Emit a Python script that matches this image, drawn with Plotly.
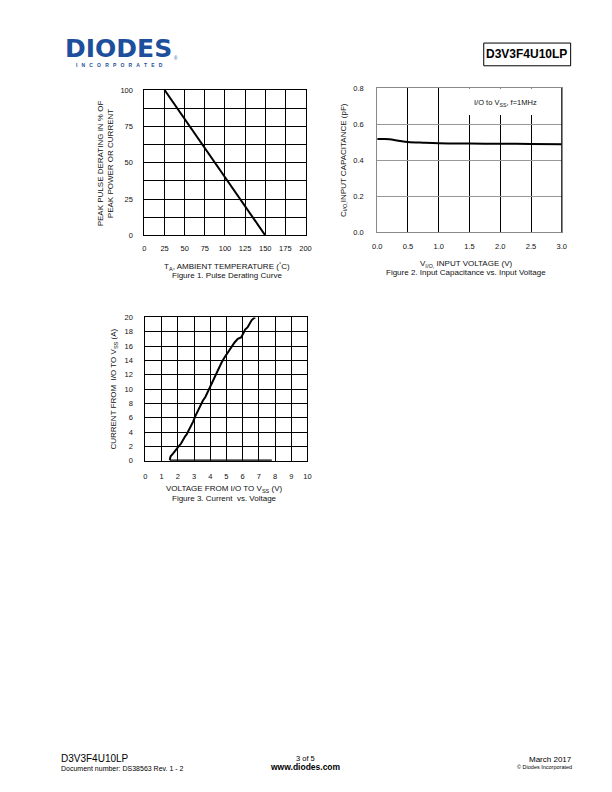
import plotly.graph_objects as go

W, H = 612, 792

def px(x):
    return x / W

def py(y):
    return 1 - y / H

# ---------------- data ----------------
# Figure 1: pulse derating curve
temp_c = [25, 150]
derating_pct = [100, 0]
fig1_xticks = [0, 25, 50, 75, 100, 125, 150, 175, 200]
fig1_yticks = [0, 25, 50, 75, 100]

# Figure 2: input capacitance vs input voltage
vin = [0.0, 0.1, 0.2, 0.3, 0.4, 0.5, 0.75, 1.0, 1.5, 2.0, 2.5, 3.0]
cap_pf = [0.517, 0.517, 0.516, 0.511, 0.505, 0.501, 0.497, 0.494, 0.492, 0.491, 0.490, 0.489]
fig2_xticks = [0.0, 0.5, 1.0, 1.5, 2.0, 2.5, 3.0]
fig2_yticks = [0.0, 0.2, 0.4, 0.6, 0.8]

# Figure 3: current vs voltage
v_io = [1.5, 1.55, 1.7, 1.85, 2.05, 2.2, 2.3, 2.45, 2.55, 2.7, 2.8, 2.95, 3.05, 3.2, 3.3,
        3.45, 3.55, 3.7, 3.8, 3.95, 4.05, 4.2, 4.3, 4.45, 4.55, 4.7, 4.85, 5.0, 5.15, 5.3,
        5.5, 5.7, 5.9, 6.05, 6.15, 6.3, 6.45, 6.55, 6.7, 6.78]
i_io = [0.1, 0.6, 1.0, 1.5, 2.0, 2.4, 2.9, 3.4, 3.7, 4.3, 4.9, 5.5, 6.1, 6.8, 7.3,
        7.9, 8.4, 8.9, 9.4, 10.0, 10.6, 11.3, 11.9, 12.5, 13.1, 13.7, 14.3, 14.8, 15.3, 15.9,
        16.5, 17.0, 17.2, 17.8, 18.3, 18.6, 19.1, 19.6, 19.9, 20.0]
base_v = [1.5, 7.8]
base_i = [0, 0]
fig3_xticks = list(range(0, 11))
fig3_yticks = list(range(0, 21, 2))

FONT = "Liberation Sans, Arial, sans-serif"
TICKFONT = dict(family=FONT, size=7.5, color="#111")
TS = 8  # title font size

fig = go.Figure()

fig.add_trace(go.Scatter(x=temp_c, y=derating_pct, mode="lines",
                         line=dict(color="black", width=2), xaxis="x", yaxis="y",
                         showlegend=False, hoverinfo="skip"))
fig.add_trace(go.Scatter(x=vin, y=cap_pf, mode="lines", line_shape="spline",
                         line=dict(color="black", width=2), xaxis="x2", yaxis="y2",
                         showlegend=False, hoverinfo="skip"))
fig.add_trace(go.Scatter(x=base_v, y=base_i, mode="lines",
                         line=dict(color="black", width=2.5), xaxis="x3", yaxis="y3",
                         showlegend=False, hoverinfo="skip", cliponaxis=False))
fig.add_trace(go.Scatter(x=v_io, y=i_io, mode="lines",
                         line=dict(color="black", width=2), xaxis="x3", yaxis="y3",
                         showlegend=False, hoverinfo="skip"))

common = dict(showline=True, mirror=True, zeroline=False, ticks="",
              tickfont=TICKFONT, fixedrange=True)

layout = dict(
    width=W, height=H, margin=dict(l=0, r=0, t=0, b=0),
    paper_bgcolor="white", plot_bgcolor="white",
    xaxis=dict(domain=[px(142), px(306)], anchor="y", range=[0, 200],
               tickvals=fig1_xticks, showgrid=True, gridcolor="black", gridwidth=1,
               linecolor="black", linewidth=1, ticklabelstandoff=6, **common),
    yaxis=dict(domain=[py(234), py(87)], anchor="x", range=[0, 100],
               tickvals=fig1_yticks, showgrid=True, gridcolor="black", gridwidth=1,
               minor=dict(dtick=12.5, tick0=0, showgrid=True, gridcolor="black", gridwidth=1),
               linecolor="black", linewidth=1, ticklabelstandoff=9, **common),
    xaxis2=dict(domain=[px(379), px(567)], anchor="y2", range=[0, 3],
                tickvals=fig2_xticks, tickformat=".1f", showgrid=True, gridcolor="black",
                gridwidth=1.3, linecolor="#888", linewidth=1, ticklabelstandoff=7, **common),
    yaxis2=dict(domain=[py(231), py(85)], anchor="x2", range=[0, 0.8],
                tickvals=fig2_yticks, tickformat=".1f", showgrid=True, gridcolor="#999",
                gridwidth=1, linecolor="#888", linewidth=1, ticklabelstandoff=11, **common),
    xaxis3=dict(domain=[px(143), px(308)], anchor="y3", range=[0, 10],
                tickvals=fig3_xticks, showgrid=True, gridcolor="black", gridwidth=1,
                linecolor="black", linewidth=1, ticklabelstandoff=8, **common),
    yaxis3=dict(domain=[py(462), py(317)], anchor="x3", range=[0, 20],
                tickvals=fig3_yticks, showgrid=True, gridcolor="black", gridwidth=1,
                linecolor="black", linewidth=1, ticklabelstandoff=10, **common),
)
fig.update_layout(**layout)

shapes = [
    # white box behind fig 2 note
    dict(type="rect", xref="x2", yref="y2", x0=1.38, x1=2.88, y0=0.65, y1=0.797,
         fillcolor="white", line=dict(width=0), layer="above"),
    # black right border of fig 2
    dict(type="line", xref="x2", yref="y2", x0=3, x1=3, y0=0, y1=0.8,
         line=dict(color="black", width=1.5), layer="above"),
    # header box
    dict(type="rect", xref="paper", yref="paper", x0=px(487.5), x1=px(576), y0=py(62.5), y1=py(39.5),
         line=dict(color="black", width=1), fillcolor="rgba(0,0,0,0)"),
]
fig.update_layout(shapes=shapes)

ann = []

def text(x, y, s, size=7, xanchor="center", angle=0, bold=False, color="#111", family=FONT):
    if bold:
        s = "<b>" + s + "</b>"
    ann.append(dict(x=px(x), y=py(y), xref="paper", yref="paper", text=s, showarrow=False,
                    xanchor=xanchor, yanchor="middle", textangle=angle, borderpad=0,
                    font=dict(family=family, size=size, color=color)))

# Figure 1 labels
text(102, 161, "PEAK PULSE DERATING IN % OF<br>PEAK POWER OR CURRENT", size=TS, angle=-90)
text(226, 266, "T<sub>A</sub>, AMBIENT TEMPERATURE (<sup>°</sup>C)", size=TS)
text(226, 275, "Figure 1. Pulse Derating Curve", size=TS)

# Figure 2 labels
text(345, 158, "C<sub>I/O,</sub>INPUT CAPACITANCE (pF)", size=TS, angle=-90)
text(469, 263, "V<sub>I/O,</sub> INPUT VOLTAGE (V)", size=TS)
text(469, 272, "Figure 2. Input Capacitance vs. Input Voltage", size=TS)
ann.append(dict(x=2.09, y=0.716, xref="x2", yref="y2", showarrow=False,
                text="I/O to V<sub>SS</sub>, f=1MHz", xanchor="center", yanchor="middle",
                font=dict(family=FONT, size=7.5, color="#111")))

# Figure 3 labels
text(111, 390, "CURRENT FROM  I/O TO V<sub>SS</sub> (A)", size=TS, angle=-90)
text(224, 491, "VOLTAGE FROM I/O TO V<sub>SS</sub> (V)", size=TS)
text(224, 500, "Figure 3. Current  vs. Voltage", size=TS)

# Header
text(60, 45, "DIODES", size=25, xanchor="left", bold=True, color="#1d4f9c",
     family="DejaVu Sans, sans-serif")
text(171, 55, "®", size=4.5, xanchor="left", color="#1d4f9c")
sp = "&nbsp;&nbsp;&nbsp;"
text(117, 62, sp.join(list("INCORPORATED")), size=5, bold=True, color="#1d4f9c")
text(531.5, 51, "D3V3F4U10LP", size=12, bold=True, color="black")

# Footer
text(56, 763, "D3V3F4U10LP", size=10, xanchor="left", color="black")
text(56, 773, "Document number: DS38563 Rev. 1 - 2", size=7, xanchor="left", color="black")
text(306, 763, "3 of 5", size=7.5, color="black")
text(306, 772, "www.diodes.com", size=8.5, bold=True, color="black")
text(578, 764, "March 2017", size=8, xanchor="right", color="black")
text(578, 772, "© Diodes Incorporated", size=5.5, xanchor="right", color="black")

fig.update_layout(annotations=ann)

fig.write_html("out.html")
